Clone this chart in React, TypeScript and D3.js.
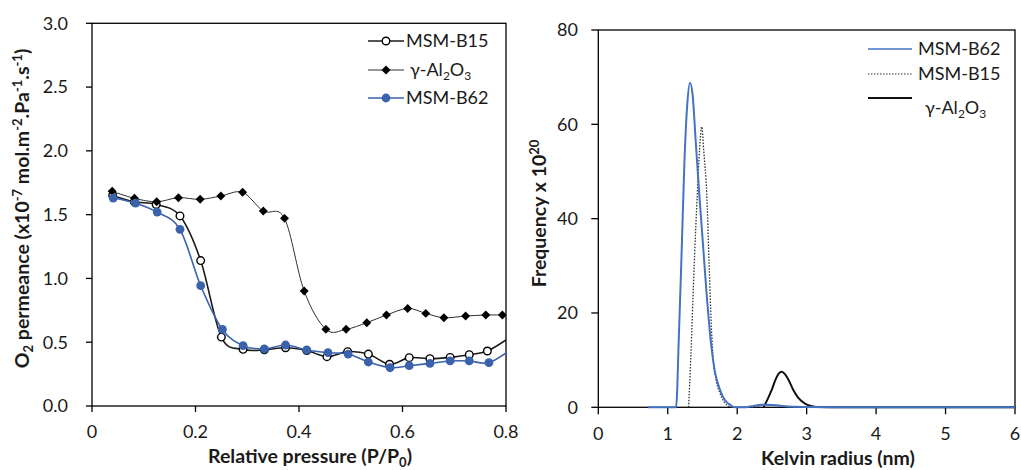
import React from "react";
import * as d3 from "d3";

// ---------- Left chart data: O2 permeance vs relative pressure ----------
const pressureB15 = [0.040, 0.082, 0.124, 0.170, 0.210, 0.250, 0.292, 0.333, 0.374, 0.415, 0.454, 0.494, 0.534, 0.575, 0.613, 0.653, 0.692, 0.729, 0.764, 0.810];
const permB15 = [1.65, 1.60, 1.58, 1.49, 1.14, 0.54, 0.444, 0.44, 0.457, 0.435, 0.387, 0.426, 0.407, 0.327, 0.379, 0.371, 0.381, 0.402, 0.431, 0.545];
const pressureAl = [0.039, 0.082, 0.125, 0.167, 0.209, 0.249, 0.291, 0.331, 0.372, 0.410, 0.452, 0.491, 0.531, 0.569, 0.610, 0.645, 0.680, 0.722, 0.761, 0.793];
const permAl = [1.683, 1.628, 1.601, 1.633, 1.620, 1.646, 1.675, 1.528, 1.471, 0.901, 0.601, 0.601, 0.653, 0.713, 0.765, 0.726, 0.692, 0.705, 0.713, 0.713];
const pressureB62 = [0.041, 0.084, 0.126, 0.170, 0.210, 0.252, 0.292, 0.333, 0.374, 0.415, 0.456, 0.495, 0.534, 0.576, 0.613, 0.653, 0.692, 0.729, 0.767, 0.812];
const permB62 = [1.63, 1.59, 1.52, 1.385, 0.943, 0.60, 0.473, 0.447, 0.478, 0.439, 0.418, 0.407, 0.345, 0.300, 0.316, 0.334, 0.353, 0.353, 0.340, 0.45];
const leftXTicks = [0, 0.2, 0.4, 0.6, 0.8];
const leftYTicks = [0, 0.5, 1.0, 1.5, 2.0, 2.5, 3.0];

// ---------- Right chart data: pore size distribution ----------
const radiusB62 = [0.72, 1.0, 1.12, 1.16, 1.2, 1.24, 1.28, 1.32, 1.36, 1.40, 1.45, 1.50, 1.56, 1.62, 1.68, 1.75, 1.82, 1.9, 1.97, 2.1, 2.2, 2.35, 2.5, 2.65, 2.8, 3.0, 3.5, 6.0];
const freqB62 = [0, 0, 0, 15, 33, 52, 64, 68.8, 66, 57, 46, 36, 24, 14, 7.5, 3.8, 1.6, 0.5, 0, 0, 0.2, 0.55, 0.5, 0.25, 0.1, 0.05, 0, 0];
const radiusB15 = [1.30, 1.33, 1.383, 1.426, 1.46, 1.489, 1.52, 1.561, 1.594, 1.628, 1.656, 1.70, 1.752, 1.81, 1.88, 1.95, 2.2, 2.4, 2.6, 2.8, 3.0, 6.0];
const freqB15 = [0, 10, 31, 45.4, 55, 59.5, 54, 45.4, 31.2, 17, 10, 5.5, 3, 1.2, 0.2, 0, 0, 0.5, 0.4, 0.15, 0, 0];
const radiusAl = [2.38, 2.44, 2.497, 2.55, 2.6, 2.641, 2.69, 2.75, 2.808, 2.88, 2.977, 3.06, 3.15, 3.5, 6.0];
const freqAl = [0, 1.8, 3.67, 5.8, 7.2, 7.55, 7.0, 5.5, 3.67, 2.0, 0.8, 0.3, 0.05, 0, 0];
const rightXTicks = [0, 1, 2, 3, 4, 5, 6];
const rightYTicks = [0, 20, 40, 60, 80];

const FONT = "Lato, 'Open Sans', sans-serif";
const BLUE_L = "#3a62ad";
const BLUE_R = "#4472c4";

function zip(xs: number[], ys: number[]): [number, number][] {
  return xs.map((x, i) => [x, ys[i]]);
}

export default function App() {
  // Left scales
  const xL = d3.scaleLinear().domain([0, 0.8]).range([92, 506]);
  const yL = d3.scaleLinear().domain([0, 3]).range([406, 23.3]);
  const lineL = d3
    .line<[number, number]>()
    .x((d) => xL(d[0]))
    .y((d) => yL(d[1]))
    .curve(d3.curveCardinal.tension(0));

  // Right scales
  const xR = d3.scaleLinear().domain([0, 6]).range([598.3, 1015]);
  const yR = d3.scaleLinear().domain([0, 80]).range([407.3, 30]);
  const lineR = d3
    .line<[number, number]>()
    .x((d) => xR(d[0]))
    .y((d) => yR(d[1]))
    .curve(d3.curveMonotoneX);

  const b15 = zip(pressureB15, permB15);
  const al = zip(pressureAl, permAl);
  const b62 = zip(pressureB62, permB62);

  const diamond = d3.symbol(d3.symbolSquare, 40)() as string;

  const tickFont = 18;
  const legFont = 18;
  const titleFont = 19.5;
  const subFont = 13;

  return (
    <svg
      width={1021}
      height={470}
      style={{ position: "absolute", left: 0, top: 0, background: "#fff" }}
      fontFamily={FONT}
    >
      <defs>
        <clipPath id="clipL">
          <rect x={xL(0)} y={yL(3)} width={xL(0.8) - xL(0)} height={yL(0) - yL(3)} />
        </clipPath>
        <clipPath id="clipR">
          <rect x={xR(0)} y={yR(80) - 2} width={xR(6) - xR(0)} height={yR(0) - yR(80) + 4} />
        </clipPath>
      </defs>
      <rect x={0} y={0} width={1021} height={470} fill="#fff" />

      {/* ================= LEFT CHART ================= */}
      <g>
        <rect x={xL(0)} y={yL(3)} width={xL(0.8) - xL(0)} height={yL(0) - yL(3)} fill="none" stroke="#000" strokeWidth={1.3} />
        {leftYTicks.map((t) => (
          <g key={"ly" + t}>
            <line x1={xL(0) - 6} x2={xL(0)} y1={yL(t)} y2={yL(t)} stroke="#000" strokeWidth={1.3} />
            <text x={68} y={yL(t)} dy="0.35em" textAnchor="end" fontSize={tickFont} fill="#1a1a1a">
              {t.toFixed(1)}
            </text>
          </g>
        ))}
        {leftXTicks.map((t) => (
          <g key={"lx" + t}>
            <line x1={xL(t)} x2={xL(t)} y1={yL(0)} y2={yL(0) + 6} stroke="#000" strokeWidth={1.3} />
            <text x={xL(t)} y={438} textAnchor="middle" fontSize={tickFont} fill="#1a1a1a">
              {t === 0 ? "0" : t.toFixed(1)}
            </text>
          </g>
        ))}
        <text x={310} y={463} textAnchor="middle" fontSize={titleFont} fontWeight="bold" fill="#1a1a1a">
          Relative pressure (P/P
          <tspan fontSize={subFont} dy={4}>0</tspan>
          <tspan dy={-4}>)</tspan>
        </text>
        <text
          transform={`translate(29,208.5) rotate(-90)`}
          textAnchor="middle"
          fontSize={titleFont}
          fontWeight="bold"
          fill="#1a1a1a"
        >
          O<tspan fontSize={subFont} dy={4}>2</tspan>
          <tspan dy={-4}> permeance (x10</tspan>
          <tspan fontSize={subFont} dy={-7}>-7</tspan>
          <tspan dy={7}> mol.m</tspan>
          <tspan fontSize={subFont} dy={-7}>-2</tspan>
          <tspan dy={7}>.Pa</tspan>
          <tspan fontSize={subFont} dy={-7}>-1</tspan>
          <tspan dy={7}>.s</tspan>
          <tspan fontSize={subFont} dy={-7}>-1</tspan>
          <tspan dy={7}>)</tspan>
        </text>

        <g clipPath="url(#clipL)">
          <path d={lineL(b15) || ""} fill="none" stroke="#1a1a1a" strokeWidth={1.6} />
          {b15.map((d, i) => (
            <circle key={"c15" + i} cx={xL(d[0])} cy={yL(d[1])} r={3.8} fill="#fff" stroke="#000" strokeWidth={1.4} />
          ))}
          <path d={lineL(al) || ""} fill="none" stroke="#1a1a1a" strokeWidth={0.9} />
          {al.map((d, i) => (
            <path key={"dal" + i} d={diamond} transform={`translate(${xL(d[0])},${yL(d[1])}) rotate(45)`} fill="#000" />
          ))}
          <path d={lineL(b62) || ""} fill="none" stroke={BLUE_L} strokeWidth={1.6} />
          {b62.map((d, i) => (
            <circle key={"c62" + i} cx={xL(d[0])} cy={yL(d[1])} r={4.4} fill={BLUE_L} />
          ))}
        </g>

        <g fontSize={legFont} fill="#1a1a1a">
          <line x1={368} x2={404} y1={41} y2={41} stroke="#1a1a1a" strokeWidth={1.4} />
          <circle cx={386} cy={41} r={3.8} fill="#fff" stroke="#000" strokeWidth={1.4} />
          <text x={406} y={41} dy="0.35em">MSM-B15</text>

          <line x1={368} x2={404} y1={70} y2={70} stroke="#1a1a1a" strokeWidth={0.9} />
          <path d={diamond} transform={`translate(386,70) rotate(45)`} fill="#000" />
          <text x={410} y={70} dy="0.35em">
            γ-Al<tspan fontSize={12} dy={4}>2</tspan>
            <tspan dy={-4}>O</tspan>
            <tspan fontSize={12} dy={4}>3</tspan>
          </text>

          <line x1={368} x2={404} y1={98} y2={98} stroke={BLUE_L} strokeWidth={1.6} />
          <circle cx={386} cy={98} r={4.4} fill={BLUE_L} />
          <text x={406} y={98} dy="0.35em">MSM-B62</text>
        </g>
      </g>

      {/* ================= RIGHT CHART ================= */}
      <g>
        <rect x={xR(0)} y={yR(80)} width={xR(6) - xR(0)} height={yR(0) - yR(80)} fill="none" stroke="#000" strokeWidth={1.3} />
        {rightYTicks.map((t) => (
          <g key={"ry" + t}>
            <line x1={xR(0) - 7} x2={xR(0)} y1={yR(t)} y2={yR(t)} stroke="#000" strokeWidth={1.3} />
            <text x={578} y={yR(t)} dy="0.35em" textAnchor="end" fontSize={tickFont} fill="#1a1a1a">
              {t}
            </text>
          </g>
        ))}
        {rightXTicks.map((t) => (
          <g key={"rx" + t}>
            <line x1={xR(t)} x2={xR(t)} y1={yR(0)} y2={yR(0) + 7} stroke="#000" strokeWidth={1.3} />
            <text x={xR(t)} y={440} textAnchor="middle" fontSize={tickFont} fill="#1a1a1a">
              {t}
            </text>
          </g>
        ))}
        <text x={838} y={465} textAnchor="middle" fontSize={titleFont} fontWeight="bold" fill="#1a1a1a">
          Kelvin radius (nm)
        </text>
        <text transform={`translate(546,213.5) rotate(-90)`} textAnchor="middle" fontSize={titleFont} fontWeight="bold" fill="#1a1a1a">
          Frequency x 10<tspan fontSize={subFont} dy={-7}>20</tspan>
        </text>

        <g clipPath="url(#clipR)">
          <path d={lineR(zip(radiusAl, freqAl)) || ""} fill="none" stroke="#111" strokeWidth={2} />
          <path d={lineR(zip(radiusB15, freqB15)) || ""} fill="none" stroke="#333" strokeWidth={1.3} strokeDasharray="1.5 1.5" />
          <path d={lineR(zip(radiusB62, freqB62)) || ""} fill="none" stroke={BLUE_R} strokeWidth={2} />
        </g>

        <g fontSize={legFont} fill="#1a1a1a">
          <line x1={868} x2={912} y1={49} y2={49} stroke={BLUE_R} strokeWidth={1.6} />
          <text x={918} y={49} dy="0.35em">MSM-B62</text>
          <line x1={868} x2={912} y1={74} y2={74} stroke="#333" strokeWidth={1.2} strokeDasharray="1.5 1.5" />
          <text x={918} y={74} dy="0.35em">MSM-B15</text>
          <line x1={868} x2={912} y1={98} y2={98} stroke="#111" strokeWidth={2} />
          <text x={925} y={108} dy="0.35em">
            γ-Al<tspan fontSize={12} dy={4}>2</tspan>
            <tspan dy={-4}>O</tspan>
            <tspan fontSize={12} dy={4}>3</tspan>
          </text>
        </g>
      </g>
    </svg>
  );
}
